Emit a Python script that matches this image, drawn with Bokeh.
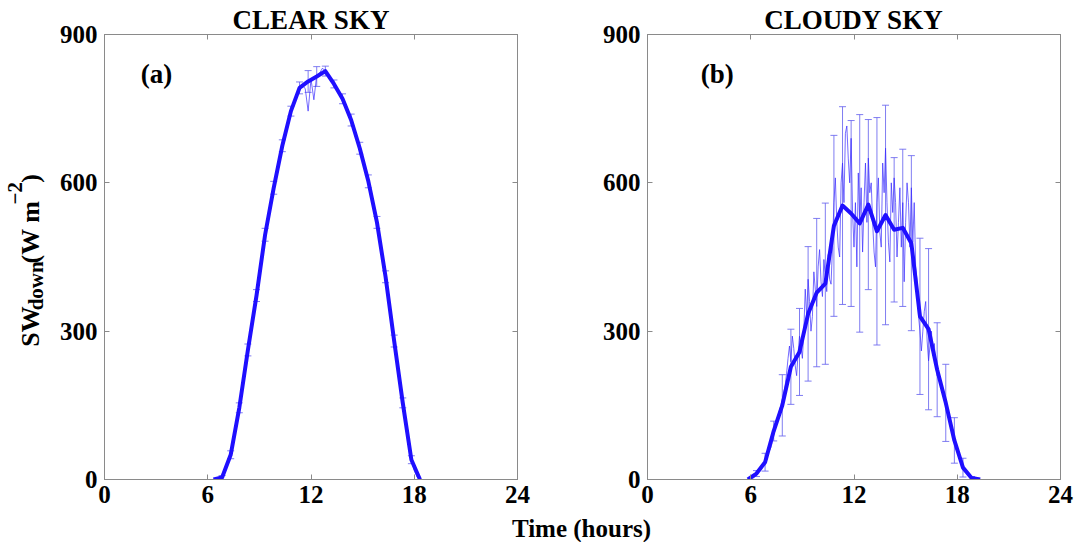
import numpy as np
from bokeh.plotting import figure
from bokeh.models import Range1d, LinearAxis, FixedTicker, Label, ColumnDataSource, Whisker, TeeHead
from bokeh.layouts import column, row
from bokeh.embed import file_html
from bokeh.resources import INLINE

# ---------------- data ----------------
x_ticks = [0, 6, 12, 18, 24]
y_ticks = [0, 300, 600, 900]

# Clear sky: half-hourly mean and standard deviation (W m-2)
clear_hours = [6.333, 6.833, 7.333, 7.833, 8.333, 8.833, 9.333, 9.833, 10.333,
               10.833, 11.333, 11.833, 12.333, 12.833, 13.333, 13.833, 14.333,
               14.833, 15.333, 15.833, 16.333, 16.833, 17.333, 17.833, 18.333]
clear_mean = [0, 4, 50, 145, 262, 372, 495, 590, 675, 745, 792, 805, 815, 826,
              800, 770, 727, 670, 603, 520, 410, 280, 155, 40, 0]
clear_std = [0, 4, 8, 10, 12, 12, 13, 13, 12, 10, 12, 22, 20, 10, 8, 10, 12,
             12, 13, 12, 12, 12, 10, 8, 0]

# Clear sky: 10-minute series starting 06:40
clear_fine = [0, 4,
              18, 33, 50, 82, 113, 145,
              184, 223, 262, 299, 335, 372,
              413, 454, 495, 527, 558, 590,
              618, 647, 675, 698, 722, 745,
              762, 778, 792, 798, 790, 745,
              810, 768, 818, 822, 832, 826,
              818, 809, 800, 790, 780, 770,
              756, 742, 727, 708, 689, 670,
              648, 625, 603, 576, 548, 520,
              483, 447, 410, 367, 323, 280,
              238, 197, 155, 117, 78, 40,
              18, 5, 0]

# Cloudy sky: half-hourly mean and standard deviation (W m-2)
cloudy_hours = [5.833, 6.333, 6.833, 7.333, 7.833, 8.333, 8.833, 9.333, 9.833,
                10.333, 10.833, 11.333, 11.833, 12.333, 12.833, 13.333, 13.833,
                14.333, 14.833, 15.333, 15.833, 16.333, 16.833, 17.333, 17.833,
                18.333, 18.833, 19.333]
cloudy_mean = [0, 12, 35, 98, 150, 228, 258, 335, 378, 396, 513, 554, 538, 518,
               556, 502, 535, 505, 509, 478, 330, 304, 222, 155, 79, 24, 3, 0]
cloudy_std = [0, 6, 18, 20, 62, 76, 88, 136, 150, 163, 183, 200, 188, 220, 172,
              230, 222, 146, 159, 177, 158, 163, 95, 78, 46, 19, 3, 0]

# Cloudy sky: 5-minute series starting 06:00
cloudy_fine = [0, 1, 3, 6, 10, 14, 18, 22, 27, 32, 38, 45,
               52, 58, 64, 75, 90, 100, 112, 125, 140, 150, 162, 175,
               190, 215, 245, 270, 238, 290, 265, 230, 210, 255, 290, 270,
               245, 300, 385, 330, 405, 360, 300, 330, 420, 385, 350, 430,
               465, 400, 370, 445, 410, 380, 455, 405, 395, 470, 560, 610,
               520, 470, 450, 600, 640, 560, 700, 715, 650, 600, 690, 540,
               470, 560, 430, 620, 520, 590, 460, 560, 640, 520, 650, 580,
               600, 520, 460, 430, 560, 610, 500, 470, 640, 580, 670, 560,
               480, 440, 600, 540, 610, 560, 450, 520, 590, 470, 560, 400,
               520, 600, 560, 470, 590, 480, 560, 430, 400, 330, 300, 260,
               300, 340, 360, 280, 240, 270, 300, 250, 275, 230, 210, 215,
               195, 185, 170, 160, 148, 140, 130, 115, 100, 88, 78, 68,
               58, 48, 40, 32, 25, 19, 14, 10, 6, 4, 2, 1,
               0]
night_end_hour = 24

clear_fine_hours = 6 + 40 / 60 + np.arange(len(clear_fine)) / 6
cloudy_fine_hours = 6 + np.arange(len(cloudy_fine)) / 12

# ---------------- style ----------------
FONT = "Liberation Serif"
THICK = "#1f0fff"
THIN = "#3b2cff"
BAR = "#6a66ee"
GRAY = "#8a8a8a"
FIG_H = 513
TOP, BOTTOM = 34, 34
YLAB_W = 56


def blank(width, height):
    f = figure(width=width, height=height, x_range=Range1d(0, width), y_range=Range1d(0, height),
               output_backend="svg", toolbar_location=None, title=None,
               x_axis_location=None, y_axis_location=None,
               min_border=0, min_border_left=0, min_border_right=0,
               min_border_top=0, min_border_bottom=0)
    f.xgrid.visible = False
    f.ygrid.visible = False
    f.outline_line_color = None
    return f


def make_panel(width, left, right, hours, mean, std, fine_x, fine_y, title, tag, tag_x):
    p = figure(width=width, height=FIG_H, x_range=Range1d(0, 24), y_range=Range1d(0, 900),
               output_backend="svg", toolbar_location=None, title=title,
               min_border_left=left, min_border_right=right,
               min_border_top=TOP, min_border_bottom=BOTTOM)
    p.title.align = "center"
    p.title.text_font = FONT
    p.title.text_font_style = "bold"
    p.title.text_font_size = "27px"
    p.title.text_color = "black"
    p.title.standoff = 0
    p.title.offset = 0
    p.xgrid.visible = False
    p.ygrid.visible = False
    p.outline_line_color = GRAY

    for ax in (p.xaxis[0], p.yaxis[0]):
        ax.major_label_text_font = FONT
        ax.major_label_text_font_style = "bold"
        ax.major_label_text_font_size = "25px"
        ax.major_label_text_color = "black"
        ax.major_label_standoff = 6
        ax.axis_line_color = GRAY
        ax.major_tick_line_color = GRAY
        ax.major_tick_in = 5
        ax.major_tick_out = 0
        ax.minor_tick_line_color = None
    p.yaxis[0].major_label_standoff = 7
    p.xaxis[0].ticker = FixedTicker(ticks=x_ticks)
    p.yaxis[0].ticker = FixedTicker(ticks=y_ticks)

    # mirrored ticks on the top and right edges
    for loc, ticks in (("above", x_ticks), ("right", y_ticks)):
        ax = LinearAxis(ticker=FixedTicker(ticks=ticks))
        ax.major_label_text_font_size = "1px"
        ax.major_label_text_color = None
        ax.major_label_standoff = 0
        ax.axis_line_color = GRAY
        ax.major_tick_line_color = GRAY
        ax.major_tick_in = 5
        ax.major_tick_out = 0
        ax.minor_tick_line_color = None
        p.add_layout(ax, loc)

    # fine-resolution series
    p.line(fine_x, fine_y, line_color=THIN, line_width=1, line_alpha=0.7)

    # error bars (mean +/- one standard deviation)
    keep = [i for i in range(len(hours)) if std[i] > 0]
    src = ColumnDataSource(dict(
        x=[hours[i] for i in keep],
        upper=[mean[i] + std[i] for i in keep],
        lower=[mean[i] - std[i] for i in keep],
    ))
    wk = Whisker(source=src, base="x", upper="upper", lower="lower", dimension="height",
                 line_color=BAR, line_width=1, line_alpha=0.85,
                 upper_head=TeeHead(size=7, line_color=BAR, line_width=1, line_alpha=0.85),
                 lower_head=TeeHead(size=7, line_color=BAR, line_width=1, line_alpha=0.85))
    wk.level = "underlay"
    p.add_layout(wk)

    # half-hourly mean
    p.line(hours, mean, line_color=THICK, line_width=4, line_join="round")

    p.add_layout(Label(x=tag_x, y=820, text=tag, text_align="left",
                       text_baseline="alphabetic", text_font=FONT,
                       text_font_style="bold", text_font_size="27px", text_color="black"))
    return p


pa = make_panel(560 - YLAB_W, 104 - YLAB_W, 43, clear_hours, clear_mean, clear_std,
                clear_fine_hours, clear_fine, "CLEAR SKY", "(a)", 2.1)
pb = make_panel(518, 87, 18, cloudy_hours, cloudy_mean, cloudy_std,
                list(cloudy_fine_hours) + [night_end_hour], cloudy_fine + [0],
                "CLOUDY SKY", "(b)", 3.1)

# y-axis label built from pieces so the subscript and superscript sit correctly:
# (text, font size, anchor x, start position measured from the top of the canvas)
ylab = blank(YLAB_W, FIG_H)
pieces = [("SW", 26, 30, 360),
          ("down", 21, 35, 318),
          ("(W m", 26, 30, 264),
          ("\u22122", 21, 14, 196),
          (")", 26, 30, 171)]
for s, size, bx, start in pieces:
    ylab.add_layout(Label(x=bx, y=FIG_H - start, text=s, angle=np.pi / 2, text_align="left",
                          text_baseline="alphabetic", text_font=FONT,
                          text_font_style="bold", text_font_size=f"{size}px",
                          text_color="black"))

# shared x-axis label
STRIP_H = 542 - FIG_H
strip = blank(1078, STRIP_H)
strip.add_layout(Label(x=581, y=STRIP_H / 2, text="Time (hours)",
                       text_align="center", text_baseline="alphabetic", text_font=FONT,
                       text_font_style="bold", text_font_size="25px", text_color="black"))

layout = column(row(ylab, pa, pb, spacing=0), strip, spacing=0)
open("out.html", "w").write(file_html(layout, INLINE))
